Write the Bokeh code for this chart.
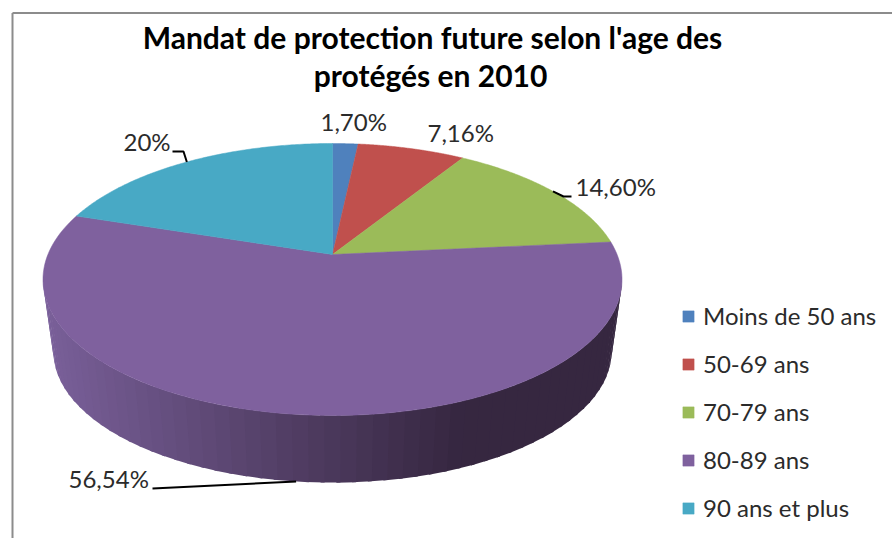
import numpy as np
from bokeh.plotting import figure
from bokeh.models import Legend, LegendItem, Range1d
from bokeh.core.properties import value
from bokeh.embed import file_html
from bokeh.resources import INLINE

categories = ["Moins de 50 ans", "50-69 ans", "70-79 ans", "80-89 ans", "90 ans et plus"]
shares = [1.70, 7.16, 14.60, 56.54, 20.0]
labels = ["1,70%", "7,16%", "14,60%", "56,54%", "20%"]
colors = ["#4F81BD", "#C0504D", "#9BBB59", "#7F619E", "#48A9C5"]
title_lines = ["Mandat de protection future selon l'age des", "protégés en 2010"]

FONT = "Lato"
W, H = 892, 538
CX, CY, A, B, K = 332.0, 254.0, 284.6, 131.4, 0.1837   # perspective disc
SCALE, CY_LOW = 0.964, 327.0                           # lower rim of the disc


def rim(t, low=False):
    w = 1 + K * np.cos(t)
    s, cy = (SCALE, CY_LOW) if low else (1.0, CY)
    return CX + s * A * np.sin(t) / w, cy - s * B * np.cos(t) / w


p = figure(width=W, height=H, x_range=Range1d(0, W), y_range=Range1d(H, 0),
           output_backend="svg", toolbar_location=None, min_border=0,
           background_fill_color="white", border_fill_color="white", outline_line_color=None)
p.xaxis.visible = False
p.yaxis.visible = False
p.grid.visible = False

edges = np.concatenate([[0], np.cumsum(shares)]) / 100 * 2 * np.pi
mids = (edges[:-1] + edges[1:]) / 2

# side wall of the large slice: shaded strips
t_start = np.arccos(-K)
t_end = 2 * np.pi - t_start
ts = np.linspace(t_start, t_end, 60)
left, right = np.array([122, 96, 154]), np.array([54, 39, 64])
for a, b in zip(ts[:-1], ts[1:]):
    xa, ya = rim(a)
    xb, yb = rim(b + 0.012 * (b < t_end))
    xc, yc = rim(b + 0.012 * (b < t_end), True)
    xd, yd = rim(a, True)
    f = np.clip((xa - 45) / (470 - 45), 0, 1)
    c = "#%02x%02x%02x" % tuple((left + (right - left) * f).astype(int))
    p.patch([xa, xb, xc, xd], [ya, yb, yc, yd], fill_color=c, line_color=None)

# top faces
items = []
for i, cat in enumerate(categories):
    t = np.linspace(edges[i], edges[i + 1], 120)
    x, y = rim(t)
    r = p.patch(np.r_[CX, x], np.r_[CY, y], fill_color=colors[i], line_color=colors[i], line_width=0.5)
    items.append(LegendItem(label=cat, renderers=[r]))

# leader lines, from the rim at each slice's middle
lead = [
    [(172, 151), (183, 151), rim(mids[4])],
    [(571, 196), (563, 196), rim(mids[2])],
    [(152, 488), rim(mids[3], True)],
]
for pts in lead:
    p.line([q[0] for q in pts], [q[1] for q in pts], line_color="black", line_width=2)

# value labels
lx = [320, 427, 575, 68, 123]
ly = [121, 132, 186, 478, 141]
p.text(lx, ly, text=labels, text_font=value(FONT), text_font_size="24px", text_color="#2b2b2b",
       text_align="left", text_baseline="alphabetic")

# title
p.text([432, 430], [36, 74], text=title_lines, text_font=value("Lato"), text_font_size="30px",
       text_font_style="bold", text_color="black", text_align="center", text_baseline="alphabetic")

legend = Legend(items=items, location=(681, 16), orientation="vertical", padding=0, margin=0,
                spacing=19, glyph_width=14, glyph_height=14, label_standoff=8,
                label_height=29, label_text_font=FONT, label_text_font_size="24px",
                label_text_color="#2b2b2b", background_fill_alpha=0, border_line_color=None)
p.add_layout(legend, "center")

# frame
p.segment([12, 12], [12.5, 12.5], [W, 12], [12.5, H], line_color="#8C8C8C", line_width=2)

open("out.html", "w").write(file_html(p, INLINE))
